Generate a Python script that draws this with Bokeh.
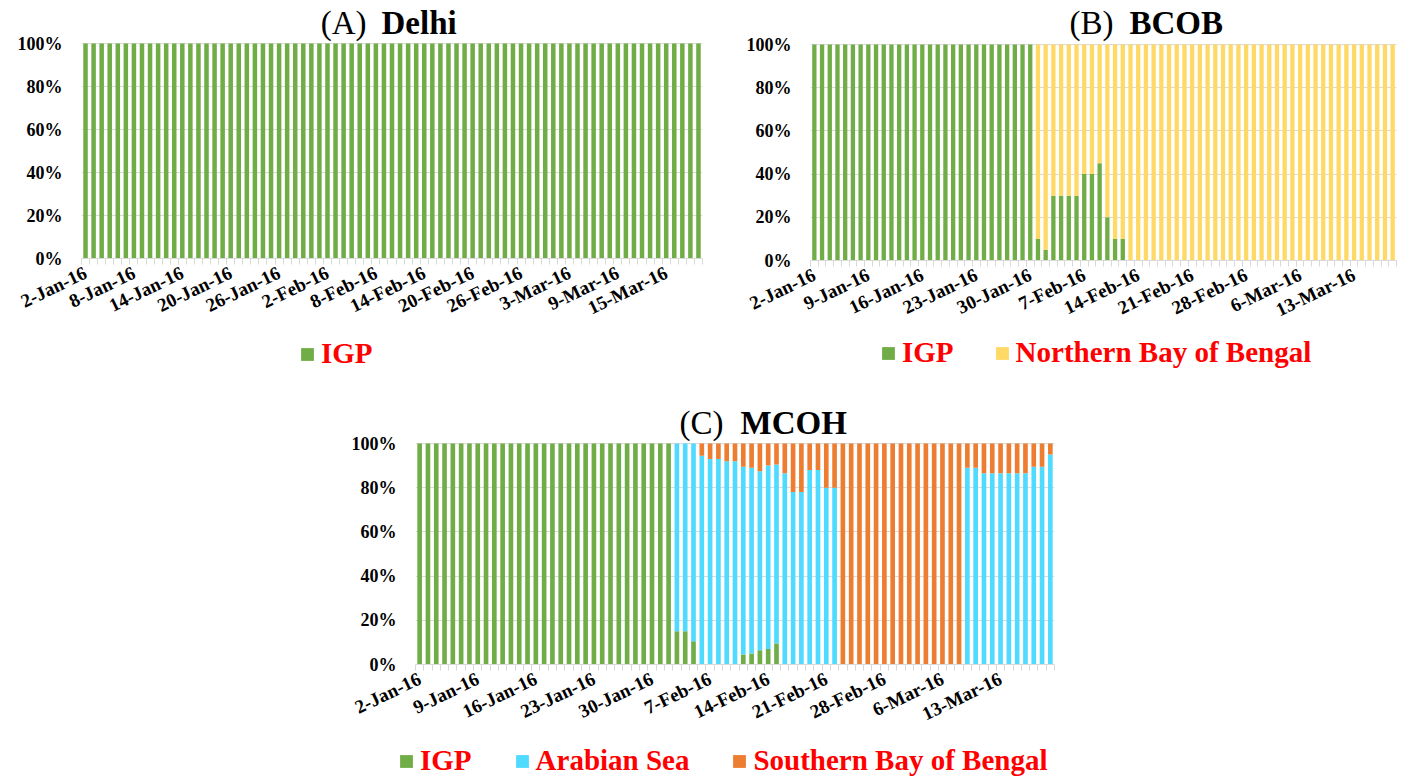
import pandas as pd
from bokeh.plotting import figure
from bokeh.models import (ColumnDataSource, Range1d, FixedTicker, Legend,
                          LegendItem)
from bokeh.core.properties import value
from bokeh.layouts import column, row
from bokeh.embed import file_html
from bokeh.resources import INLINE

SERIF = "Liberation Serif"


def day_labels(last_day):
    """Daily sampling days from 2 Jan 2016; 31 Jan 2016 has no record."""
    days = pd.date_range("2016-01-02", last_day, freq="D")
    days = days[days != pd.Timestamp("2016-01-31")]
    return [f"{d.day}-{d.strftime('%b-%y')}" for d in days]


# ---------------------------------------------------------------- categories
DELHI_DAYS = day_labels("2016-03-19")
BCOB_DAYS = day_labels("2016-03-18")
MCOH_DAYS = day_labels("2016-03-19")

# ---------------------------------------------------------------- tick labels
DELHI_TICKS = ["2-Jan-16", "8-Jan-16", "14-Jan-16", "20-Jan-16", "26-Jan-16",
               "2-Feb-16", "8-Feb-16", "14-Feb-16", "20-Feb-16", "26-Feb-16",
               "3-Mar-16", "9-Mar-16", "15-Mar-16"]
BCOB_TICKS = ["2-Jan-16", "9-Jan-16", "16-Jan-16", "23-Jan-16", "30-Jan-16",
              "7-Feb-16", "14-Feb-16", "21-Feb-16", "28-Feb-16", "6-Mar-16",
              "13-Mar-16"]
MCOH_TICKS = list(BCOB_TICKS)
PERCENT_TICKS = [0, 20, 40, 60, 80, 100]

# ---------------------------------------------------------------- series (% of trajectories)
DELHI_IGP = [100] * 77

BCOB_IGP = [100] * 29 + [10, 5, 30, 30, 30, 30, 40, 40, 45, 20, 10, 10] + [0] * 35
BCOB_NBOB = [0] * 29 + [90, 95, 70, 70, 70, 70, 60, 60, 55, 80, 90, 90] + [100] * 35

MCOH_IGP = ([100] * 31 + [15, 15, 10.5] + [0] * 5 + [4.5, 5, 6.5, 7, 9.5]
            + [0] * 33)
MCOH_AS = ([0] * 31 + [85, 85, 89.5] + [94.5, 93, 93, 92, 92]
           + [85, 84, 81, 83, 81] + [86.5, 78, 78, 88, 88, 80, 80]
           + [0] * 15
           + [89, 89, 86.5, 86.5, 86.5, 86.5, 86.5, 86.5, 89.5, 89.5, 95])
MCOH_SBOB = ([0] * 31 + [0, 0, 0] + [5.5, 7, 7, 8, 8]
             + [10.5, 11, 12.5, 10, 9.5] + [13.5, 22, 22, 12, 12, 20, 20]
             + [100] * 15
             + [11, 11, 13.5, 13.5, 13.5, 13.5, 13.5, 13.5, 10.5, 10.5, 5])

GREEN = "#70AD47"
YELLOW = "#FFD966"
CYAN = "#4FDAFF"
ORANGE = "#ED7D31"
GRID = "#D9D9D9"
RED = "#FF0000"


def panel(days, ticks, series, plot_size, head, border, title):
    """One stacked 100 % bar panel.

    series: list of (name, values, colour); plot_size: (width, height) of the
    0-100 % area; head: extra frame height kept above 100 % for the title;
    border: (left, right, top, bottom);
    title: ((regular text, right edge px), (bold text, left edge px), rise px)
    with pixel positions measured from the left edge of the plotting area.
    """
    n = len(days)
    fw, ph = plot_size
    bl, br, bt, bb = border
    fh = ph + head
    p = figure(frame_width=fw, frame_height=fh,
               min_border_left=bl, min_border_right=br,
               min_border_top=bt, min_border_bottom=bb,
               x_range=Range1d(-0.5, n - 0.5),
               y_range=Range1d(0, 100.0 * fh / ph),
               output_backend="svg", toolbar_location=None,
               background_fill_color="white", border_fill_color="white")
    p.outline_line_color = None

    data = {"x": list(range(n)), "day": days}
    names = []
    for name, vals, _ in series:
        data[name] = vals
        names.append(name)
    src = ColumnDataSource(data)
    p.vbar_stack(names, x="x", width=0.56, source=src,
                 fill_color=[c for _, _, c in series], line_color=None)

    # x axis: labels on selected days, small ticks between categories
    xa = p.xaxis[0]
    xa.ticker = FixedTicker(ticks=[days.index(t) for t in ticks],
                            minor_ticks=[k - 0.5 for k in range(n + 1)])
    xa.major_label_overrides = {days.index(t): t for t in ticks}
    xa.major_label_orientation = 0.45
    xa.major_tick_out = 0
    xa.major_tick_in = 0
    xa.minor_tick_out = 6
    xa.minor_tick_in = 0
    xa.minor_tick_line_color = GRID
    xa.axis_line_color = GRID
    xa.major_label_standoff = 7
    xa.major_label_text_font = SERIF
    xa.major_label_text_font_style = "bold"
    xa.major_label_text_font_size = "19px"
    xa.major_label_text_color = "black"

    ya = p.yaxis[0]
    ya.ticker = FixedTicker(ticks=PERCENT_TICKS)
    ya.major_label_overrides = {v: f"{v}%" for v in PERCENT_TICKS}
    ya.axis_line_color = None
    ya.major_tick_line_color = None
    ya.minor_tick_line_color = None
    ya.major_tick_out = 0
    ya.major_label_standoff = 19
    ya.major_label_text_font = SERIF
    ya.major_label_text_font_style = "bold"
    ya.major_label_text_font_size = "18px"
    ya.major_label_text_color = "black"

    p.xgrid.grid_line_color = None
    p.ygrid.grid_line_color = GRID
    p.ygrid.ticker = FixedTicker(ticks=PERCENT_TICKS)

    # panel heading: regular letter tag followed by the bold site name
    (reg, reg_px), (bold, bold_px), rise = title
    ty = 100.0 + rise * 100.0 / ph
    p.text(x=[-0.5 + reg_px * n / fw], y=[ty], text=[reg],
           text_align="right", text_baseline="alphabetic",
           text_font=value(SERIF), text_font_size="33px", text_color="black")
    p.text(x=[-0.5 + bold_px * n / fw], y=[ty], text=[bold],
           text_align="left", text_baseline="alphabetic",
           text_font=value(SERIF), text_font_style="bold",
           text_font_size="33px", text_color="black")
    return p


def legend_strip(entries, width, height, left, lift, gap):
    """A strip holding a horizontal legend of coloured squares.

    entries: list of (name, colour); left: x of the first swatch box;
    lift: distance of the legend's lower edge above the strip's bottom.
    """
    p = figure(frame_width=width, frame_height=height,
               min_border_left=0, min_border_right=0,
               min_border_top=0, min_border_bottom=0,
               x_range=Range1d(0, width), y_range=Range1d(0, height),
               x_axis_location=None, y_axis_location=None,
               output_backend="svg", toolbar_location=None,
               background_fill_color="white", border_fill_color="white")
    p.outline_line_color = None
    p.grid.visible = False
    items = []
    for name, colour in entries:
        # swatch-only renderer: one undefined point, so nothing is plotted
        swatch = p.rect(x=[float("nan")], y=[float("nan")], width=1, height=1,
                        fill_color=colour, line_color=None)
        items.append(LegendItem(label=name, renderers=[swatch]))
    leg = Legend(items=items, location=(left, lift), orientation="horizontal",
                 glyph_width=16, glyph_height=16, label_standoff=6,
                 spacing=gap, padding=0, margin=0,
                 border_line_color=None, background_fill_alpha=0,
                 label_text_font=SERIF, label_text_font_style="bold",
                 label_text_font_size="29px", label_text_color=RED)
    p.add_layout(leg)
    return p


p_delhi = panel(DELHI_DAYS, DELHI_TICKS,
                [("IGP", DELHI_IGP, GREEN)],
                plot_size=(621, 215), head=38, border=(81, 3, 5, 78),
                title=(("(A)", 285), ("Delhi", 300), 21))

p_bcob = panel(BCOB_DAYS, BCOB_TICKS,
               [("IGP", BCOB_IGP, GREEN),
                ("Northern Bay of Bengal", BCOB_NBOB, YELLOW)],
               plot_size=(586, 216), head=39, border=(105, 9, 5, 76),
               title=(("(B)", 303), ("BCOB", 319), 22))

p_mcoh = panel(MCOH_DAYS, MCOH_TICKS,
               [("IGP", MCOH_IGP, GREEN),
                ("Arabian Sea", MCOH_AS, CYAN),
                ("Southern Bay of Bengal", MCOH_SBOB, ORANGE)],
               plot_size=(639, 221), head=40, border=(415, 351, 20, 78),
               title=(("(C)", 308), ("MCOH", 325), 21))

leg_delhi = legend_strip([("IGP", GREEN)], 705, 47, 299, 13, 45)
leg_bcob = legend_strip([("IGP", GREEN), ("Northern Bay of Bengal", YELLOW)],
                        700, 47, 175, 14, 40)
leg_mcoh = legend_strip([("IGP", GREEN), ("Arabian Sea", CYAN),
                         ("Southern Bay of Bengal", ORANGE)],
                        1405, 40, 398, 5, 42)

layout = column(row(p_delhi, p_bcob), row(leg_delhi, leg_bcob),
                p_mcoh, leg_mcoh)

open("out.html", "w").write(file_html(layout, INLINE))
